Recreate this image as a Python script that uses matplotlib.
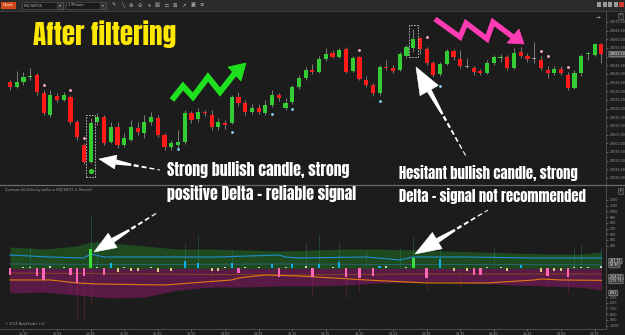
import matplotlib
matplotlib.use("Agg")
import matplotlib.pyplot as plt
import numpy as np
from matplotlib.patches import Rectangle, Polygon

# ---- price candles (NQ SEP25, 1 minute) ----
opens = [23635.5, 23632.5, 23635.5, 23638.25, 23639.5, 23629, 23616.25, 23627.25, 23625, 23626.75,
         23612.25, 23599, 23589.25, 23612.25, 23615.25, 23600.75, 23609.5, 23599, 23602, 23608.75,
         23606, 23612.25, 23614.5, 23604.75, 23598, 23599, 23600.75, 23617.5, 23614, 23618,
         23616.25, 23609.5, 23611.75, 23611.75, 23626.75, 23623.25, 23618, 23620.5, 23617.5, 23622,
         23628, 23620.5, 23623.75, 23632.5, 23637.75, 23642.25, 23641.25, 23648.75, 23652, 23649.75,
         23654.5, 23641.75, 23649.75, 23636.5, 23633.75, 23629, 23644, 23643.5, 23642.25, 23650.5,
         23655, 23660.75, 23654.5, 23646.25, 23640, 23645.75, 23653.25, 23648.75, 23644, 23643.5,
         23641.75, 23640.5, 23646.25, 23649.25, 23649.75, 23643.5, 23652.75, 23650.5, 23648.75, 23648,
         23642.25, 23640.5, 23643, 23639.5, 23632, 23640.5, 23651.5, 23651, 23657.25]
highs = [23636.5, 23641.75, 23641.25, 23643.5, 23640.5, 23630.75, 23630.75, 23629, 23629.5, 23628,
         23613.5, 23600.25, 23614.5, 23617.5, 23616.25, 23612.25, 23612.25, 23606, 23613.5, 23612.25,
         23616.25, 23618, 23616.25, 23606, 23602, 23607.75, 23619.25, 23618.75, 23620.5, 23619.25,
         23619.25, 23614.5, 23613.5, 23628, 23629.5, 23625, 23622.75, 23622.75, 23625, 23630.75,
         23629, 23626.25, 23633.75, 23639.5, 23644, 23645.75, 23650.5, 23655, 23653.75, 23655,
         23655.5, 23650.5, 23650.5, 23638.75, 23634.75, 23645.25, 23648, 23645.25, 23652.75, 23656.75,
         23666, 23661.25, 23655.5, 23647.5, 23647, 23654.5, 23654.5, 23653.75, 23649.25, 23644.5,
         23643, 23648, 23651, 23651.5, 23651, 23655, 23655.5, 23652, 23658.5, 23650.5,
         23644.5, 23644.5, 23644.5, 23641.25, 23642.25, 23651.5, 23652.75, 23658, 23658]
lows = [23630.75, 23632, 23633.75, 23636.5, 23628, 23616.25, 23615.25, 23623.75, 23624.5, 23611.25,
        23602, 23588, 23588.5, 23610.5, 23599, 23600.25, 23597.25, 23598, 23601.25, 23604.75,
        23603, 23610.5, 23603.75, 23596, 23596, 23597.25, 23599.5, 23611.75, 23612.25, 23615.75,
        23607.75, 23607.75, 23608.25, 23611.25, 23621.5, 23616.25, 23617, 23617, 23616.25, 23621,
        23624.5, 23619.25, 23622.75, 23631.25, 23636.5, 23640, 23640.5, 23647.5, 23649.25, 23649.25,
        23640.5, 23641.25, 23636.5, 23632.5, 23627.25, 23628, 23642.25, 23640.5, 23641.75, 23649.25,
        23652.75, 23651.5, 23645.25, 23638.25, 23638.75, 23645.25, 23648, 23643.5, 23643.5, 23639.5,
        23639.5, 23640, 23645.25, 23647, 23642.25, 23643, 23649.25, 23647, 23646.25, 23642.25,
        23637.75, 23639.5, 23639.5, 23630.75, 23631.25, 23638.75, 23648, 23650.5, 23646.25]
closes = [23632.5, 23635.5, 23638.25, 23638.75, 23629.5, 23617.5, 23628, 23625, 23628, 23612.25,
          23603.75, 23589.25, 23611.75, 23615.25, 23600.25, 23609.5, 23599, 23603, 23609.5, 23606.5,
          23612.25, 23615.25, 23604.75, 23598, 23600.25, 23600.75, 23617.5, 23613.5, 23618, 23617.5,
          23609.5, 23612.25, 23610.5, 23626.75, 23623.25, 23618, 23620.5, 23618, 23622, 23628,
          23626.25, 23623.25, 23632.5, 23637.75, 23642.25, 23641.25, 23648.75, 23651.5, 23649.75, 23653.75,
          23641.25, 23649.25, 23637, 23633.75, 23629, 23644, 23643.5, 23641.75, 23651.5, 23655.5,
          23660.25, 23654.5, 23646.25, 23639.5, 23645.75, 23653.25, 23649.75, 23644.5, 23644, 23641.25,
          23640.5, 23646.25, 23649.75, 23649.75, 23643.5, 23652, 23650.5, 23648.75, 23648.75, 23643.5,
          23640.5, 23643, 23640.5, 23632, 23640.5, 23650.5, 23652, 23657.25, 23651.5]

# signal dots on the price panel
pink_dot_idx = [5, 9, 11, 52, 62, 79, 80, 83]
pink_dot_px = [23633.75, 23630.75, 23603, 23653.75, 23661.25, 23653.25, 23650.5, 23644]
blue_dot_idx = [25, 33, 39, 42, 55, 64]
blue_dot_px = [23596.75, 23606.5, 23617, 23619.75, 23624.5, 23633]
green_dot_idx = [12]
green_dot_px = [23584]
signal_idx = [12, 60]

time_labels = ["13:30", "13:35", "13:40", "13:45", "13:50", "13:55", "14:00", "14:05", "14:10",
               "14:15", "14:20", "14:25", "14:30", "14:35", "14:40", "14:45", "14:50", "14:55"]
time_idx = list(range(2, 89, 5))

# ---- Vol-Delta indicator ----
env_up_idx = [0, 5, 10, 12, 15, 20, 25, 30, 35, 40, 45, 50, 55, 60, 65, 70, 75, 80, 85, 88]
env_up = [377, 341, 394, 464, 447, 394, 341, 341, 324, 306, 324, 341, 341, 324, 306, 289, 271, 254, 254, 289]
env_dn_idx = [0, 5, 10, 15, 20, 25, 30, 35, 40, 45, 50, 55, 60, 65, 70, 75, 80, 85, 88]
env_dn = [-429, -412, -464, -517, -499, -377, -324, -324, -306, -306, -290, -254, -240, -236, -260, -289, -310, -330, -377]
blue_idx = [0, 6, 11, 12, 14, 22, 31, 40, 41, 43, 53, 57, 58, 60, 68, 78, 88]
blue_val = [236, 201, 184, 254, 201, 201, 201, 236, 201, 184, 201, 160, 149, 201, 201, 184, 184]
blue2_idx = [0, 20, 40, 60, 88]
blue2_val = [79, 70, 79, 70, 64]
orange_idx = [0, 6, 10, 13, 23, 33, 34, 38, 43, 48, 53, 62, 71, 78, 79, 82, 88]
orange_val = [-201, -201, -254, -271, -289, -201, -166, -114, -131, -166, -201, -254, -254, -201, -184, -201, -208]
orange2_idx = [0, 20, 43, 60, 88]
orange2_val = [-79, -96, -114, -96, -96]

cyan_idx = [15, 26, 28, 33, 39, 42, 46, 49, 55, 64, 76]
cyan_val = [96, 131, 96, 96, 79, 79, 79, 114, 44, 166, 61]
strong_idx = [12, 60]
strong_val = [341, 184]
pink_idx = [0, 4, 5, 9, 10, 11, 14, 34, 40, 45, 50, 52, 54, 62, 69, 70, 80, 83]
pink_val = [-114, -131, -201, -114, -254, -131, -114, -79, -149, -149, -149, -166, -131, -166, -114, -114, -131, -149]
small_up_idx = [2, 3, 6, 8, 13, 17, 21, 32, 35, 37, 41, 44, 48, 56, 59, 71, 73, 84, 85, 86, 88]
small_up_val = [30, 30, 45, 30, 30, 30, 30, 30, 30, 30, 30, 40, 30, 40, 30, 30, 30, 30, 30, 30, 35]
small_dn_idx = [16, 18, 19, 22, 24, 30, 31, 66, 68, 74, 79, 81, 82]
small_dn_val = [-60, -50, -50, -60, -50, -50, -50, -50, -50, -50, -60, -50, -50]
spike_up_idx = [3, 12, 13, 26, 28, 33, 44, 46, 49, 53, 58, 60, 64, 72, 84, 85, 88]
spike_up_val = [377, 937, 499, 447, 587, 324, 447, 587, 447, 324, 359, 552, 394, 359, 359, 412, 377]
spike_dn_idx = [0, 5, 9, 10, 11, 12, 30, 45, 50, 52, 62, 67, 80, 83]
spike_dn_val = [-377, -377, -429, -902, -902, -639, -330, -464, -517, -412, -412, -350, -350, -429]

box_vals = [130, 60, -149, -219, -429]
box_texts = ["297.75", "63.90", "-208.57", "-275.75", "-881"]

BG = "#1c1c1c"
GREEN = "#33cc33"
RED = "#ff1a1a"
W, H = 625, 335

fig = plt.figure(figsize=(6.25, 3.35), dpi=100, facecolor=BG)


def box(y0, y1, x1=606):
    return [0, 1 - y1 / H, x1 / W, (y1 - y0) / H]


n = len(opens)
xs = np.arange(n)
x_left, x_right = -1.49, 88.69

# price panel
ax = fig.add_axes(box(11, 184))
ax.set_facecolor(BG)
ax.set_xlim(x_left, x_right)
ax.set_ylim(23576.5, 23676.3)
o = np.array(opens)
c = np.array(closes)
cols = np.where(c > o, GREEN, np.where(c < o, RED, "#9a9a9a"))
ax.vlines(xs, lows, highs, color="#8a8a8a", lw=0.6, zorder=2)
body_bottom = np.minimum(o, c)
body_h = np.maximum(np.abs(c - o), 0.35)
ax.bar(xs, body_h, bottom=body_bottom, width=0.62, color=cols, edgecolor="none", zorder=3)
ax.scatter(pink_dot_idx, pink_dot_px, s=4.5, color="#f4a6bd", zorder=4, linewidths=0)
ax.scatter(blue_dot_idx, blue_dot_px, s=4.5, color="#7cc6e6", zorder=4, linewidths=0)
ax.scatter(green_dot_idx, green_dot_px, s=14, color=GREEN, zorder=4, linewidths=0)
for i in signal_idx:
    dots_here = [green_dot_px[k] for k, g in enumerate(green_dot_idx) if g == i]
    lo = min([lows[i]] + dots_here) - 3.2
    hi = highs[i] + 2.0
    ax.add_patch(Rectangle((i - 0.7, lo), 1.4, hi - lo, fill=False, ec="#c8c8c8",
                           lw=0.6, ls=(0, (2, 1.5)), zorder=5))
ax.yaxis.tick_right()
ax.set_yticks(np.arange(23580, 23671, 5))
ax.set_yticklabels([f"{v:.2f}" for v in np.arange(23580, 23671, 5)])
ax.tick_params(axis="y", labelsize=2.3, colors="#9a9a9a", length=1.5, width=0.4, pad=1.5)
ax.set_xticks([])
for s in ["top", "left", "bottom"]:
    ax.spines[s].set_visible(False)
ax.spines["right"].set_color("#555555")
ax.spines["right"].set_linewidth(0.6)
ax.text(1.006, closes[-1], f"{closes[-1]:.2f}", transform=ax.get_yaxis_transform(),
        fontsize=2.3, color="white", va="center", ha="left", zorder=6, clip_on=False,
        bbox=dict(boxstyle="round,pad=0.25", fc="#4a4a4a", ec="#aaaaaa", lw=0.4))

# indicator panel
ai = fig.add_axes(box(186, 329))
ai.set_facecolor(BG)
ai.set_xlim(x_left, x_right)
ai.set_ylim(-1060, 1445)
ai.fill_between(env_up_idx, 0, env_up, color="#1f4a1f", lw=0, zorder=1)
ai.fill_between(env_dn_idx, 0, env_dn, color="#5a1a46", lw=0, zorder=1)
ai.vlines(spike_up_idx, 0, spike_up_val, color="#2f8f7f", lw=0.5, alpha=0.7, ls=(0, (1.5, 0.8)), zorder=2)
ai.vlines(spike_dn_idx, 0, spike_dn_val, color="#a0305f", lw=0.5, alpha=0.7, ls=(0, (1.5, 0.8)), zorder=2)
ai.plot(blue2_idx, blue2_val, color="#2b6f90", lw=0.5, zorder=3)
ai.plot(orange2_idx, orange2_val, color="#8e4a1c", lw=0.6, zorder=3)
ai.plot(blue_idx, blue_val, color="#1e8fd0", lw=0.8, zorder=3)
ai.plot(orange_idx, orange_val, color="#e07b10", lw=0.8, zorder=3)
ai.bar(small_up_idx, small_up_val, width=0.3, color="#cfcfcf", zorder=4)
ai.bar(small_dn_idx, small_dn_val, width=0.3, color="#d6cf86", zorder=4)
ai.bar(cyan_idx, cyan_val, width=0.35, color="#12b2e8", zorder=4)
ai.bar(pink_idx, pink_val, width=0.35, color="#ff66b8", zorder=4)
ai.bar(strong_idx, strong_val, width=0.4, color="#3be03b", zorder=5)
ai.yaxis.tick_right()
lab_vals = list(range(1200, 300, -100)) + list(range(-500, -1001, -100))
ai.set_yticks(lab_vals)
ai.set_yticklabels([str(v) for v in lab_vals])
ai.tick_params(axis="y", labelsize=2.3, colors="#9a9a9a", length=1.5, width=0.4, pad=1.5)
ai.set_xticks(time_idx)
ai.set_xticklabels(time_labels)
ai.tick_params(axis="x", labelsize=2.3, colors="#9a9a9a", length=1.2, width=0.4, pad=0.8)
for s in ["top", "left"]:
    ai.spines[s].set_visible(False)
ai.spines["right"].set_color("#555555")
ai.spines["right"].set_linewidth(0.6)
ai.spines["bottom"].set_color("#555555")
ai.spines["bottom"].set_linewidth(0.6)
for v, t in zip(box_vals, box_texts):
    ai.text(1.006, v, t, transform=ai.get_yaxis_transform(), fontsize=2.3, color="white",
            va="center", ha="left", zorder=6, clip_on=False,
            bbox=dict(boxstyle="round,pad=0.25", fc="#3a3a3a", ec="#aaaaaa", lw=0.4))

# overlay in pixel units: toolbar, separators, annotations
ov = fig.add_axes([0, 0, 1, 1], zorder=10)
ov.set_xlim(0, W)
ov.set_ylim(H, 0)
ov.axis("off")
ov.patch.set_alpha(0)

ov.add_patch(Rectangle((0, 0), W, 10.5, fc="#2a2a2a", ec="none"))
ov.plot([0, W], [10.6, 10.6], color="#444444", lw=0.6)
ov.plot([0, W], [184.8, 184.8], color="#6a6a6a", lw=0.9)
ov.add_patch(Rectangle((1, 1.5), 15, 7, fc="#d24a1c", ec="none"))
ov.text(8.5, 5.2, "Chart", fontsize=2.8, color="white", ha="center", va="center")
for x0, x1, t in [(22, 63, "NQ SEP25"), (66, 106, "1 Minute")]:
    ov.add_patch(Rectangle((x0, 1.5), x1 - x0, 7, fc="#1a1a1a", ec="#5a5a5a", lw=0.4))
    ov.add_patch(Rectangle((x1 - 6, 1.5), 6, 7, fc="#333333", ec="#5a5a5a", lw=0.4))
    ov.text(x0 + 2, 5.2, t, fontsize=2.6, color="#bbbbbb", va="center")
    ov.text(x1 - 3, 5.2, "▾", fontsize=2.6, color="#bbbbbb", ha="center", va="center")
for k, g in enumerate(["✎", "╲", "⊕", "⊖", "+", "▤", "⊏", "⊠", "↗", "▣", "≡"]):
    ov.text(113.5 + k * 8.8, 5.2, g, fontsize=3.8, color="#b8b8b8", ha="center", va="center")
for k in range(4):
    ov.add_patch(Rectangle((597 + k * 5.5, 2), 4.3, 4.8, fc="#9a9a9a", ec="none"))
ov.add_patch(Rectangle((619, 2), 5, 4.8, fc="#d23a2a", ec="none"))
ov.text(598, 17, "→", fontsize=4, color="#aaaaaa", ha="center", va="center")
for yy in [15.5, 190.5]:
    ov.add_patch(Rectangle((617.5, yy - 3), 5.5, 6, fc="#2a2a2a", ec="#777777", lw=0.4))
    ov.text(620.2, yy, "F", fontsize=2.6, color="#bbbbbb", ha="center", va="center")
ov.text(5, 190, "Quantum Vol-Delta by ninZa.co (NQ SEP25 (1 Minute))", fontsize=2.3,
        color="#a0a0a0", va="center")
ov.text(5, 324.5, "© 2025 NinjaTrader, LLC", fontsize=2.3, color="#a0a0a0", va="center")


def zigzag(pts, head, color, lw):
    p = np.array(pts, float)
    ov.plot(p[:, 0], p[:, 1], color=color, lw=lw, solid_joinstyle="miter", solid_capstyle="butt")
    ov.add_patch(Polygon(head, closed=True, fc=color, ec=color, lw=0.5))


zigzag([(172, 100), (183, 86), (193, 97), (208, 77), (220, 92), (235, 73)],
       [(228, 67), (241, 81), (246, 63)], "#1fe01f", 4.2)
zigzag([(435, 19), (460, 37), (466, 23), (487, 39), (493, 22), (513, 37)],
       [(507, 43), (519, 29), (524, 44)], "#ff3cb4", 3.8)


def white_arrow(tail, tip, head_len, head_w):
    tail = np.array(tail, float)
    tip = np.array(tip, float)
    d = tip - tail
    L = np.hypot(*d)
    u = d / L
    nrm = np.array([-u[1], u[0]])
    base = tip - u * head_len
    ov.add_patch(Polygon([tip, base + nrm * head_w / 2, base - nrm * head_w / 2],
                         closed=True, fc="white", ec="white", lw=0.4))
    shaft = L - head_len
    wedge_end = base - u * shaft * 0.35
    ov.add_patch(Polygon([base + nrm * 2.6, base - nrm * 2.6, wedge_end - nrm * 1.2,
                          wedge_end + nrm * 1.2], closed=True, fc="white", ec="none"))
    pos = shaft * 0.35 + 2.5
    while pos < shaft - 2:
        a = base - u * pos
        b = base - u * min(pos + 5, shaft)
        frac = pos / shaft
        ov.plot([a[0], b[0]], [a[1], b[1]], color="white", lw=1.8 * (1 - frac) + 0.6,
                solid_capstyle="butt")
        pos += 8


white_arrow((160, 170), (99, 159), 17, 14)
white_arrow((467, 158), (416, 67), 27, 21)
white_arrow((160, 211), (94, 252), 22, 17)
white_arrow((488, 210), (415, 254), 26, 19)

FONT = ["Anton", "Oswald", "Barlow Condensed"]
ov.text(33, 45, "After filtering", fontsize=19.5, color="#ffe800", family=FONT,
        weight="heavy", va="baseline", ha="left")
for x, y, t, fs in [(167, 176.5, "Strong bullish candle, strong", 11.3),
                    (167, 200, "positive Delta - reliable signal", 11.3),
                    (399, 179, "Hesitant bullish candle, strong", 10.5),
                    (399, 202.5, "Delta - signal not recommended", 10.5)]:
    ov.text(x, y, t, fontsize=fs, color="white", family=FONT, weight="heavy",
            va="baseline", ha="left")

fig.savefig("out.png", dpi=100, facecolor=BG)
